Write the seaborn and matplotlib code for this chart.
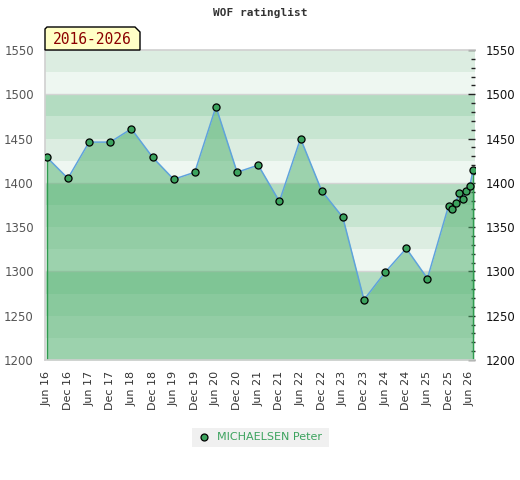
import numpy as np
import pandas as pd
import matplotlib
matplotlib.use('Agg')
import matplotlib.pyplot as plt
import seaborn as sns
from matplotlib.patches import Polygon
from matplotlib.ticker import MultipleLocator

# months counted from Jun 2016
months = [0, 6, 12, 18, 24, 30, 36, 42, 48, 54, 60, 66, 72, 78, 84, 90, 96, 102, 108,
          114, 115, 116, 117, 118, 119, 120, 121]
ratings = [1429, 1405, 1446, 1446, 1461, 1429, 1404, 1412, 1486, 1412, 1420, 1379, 1450,
           1391, 1361, 1268, 1299, 1326, 1292,
           1374, 1371, 1377, 1389, 1382, 1391, 1396, 1415]
tick_months = list(range(0, 121, 6))
tick_labels = ['Jun 16', 'Dec 16', 'Jun 17', 'Dec 17', 'Jun 18', 'Dec 18', 'Jun 19', 'Dec 19',
               'Jun 20', 'Dec 20', 'Jun 21', 'Dec 21', 'Jun 22', 'Dec 22', 'Jun 23', 'Dec 23',
               'Jun 24', 'Dec 24', 'Jun 25', 'Dec 25', 'Jun 26']
player = 'MICHAELSEN Peter'
period = '2016-2026'

df = pd.DataFrame({'month': months, 'rating': ratings})

sns.set_style('white')
W, H = 520, 480
fig = plt.figure(figsize=(W / 100, H / 100), dpi=100)
ax = fig.add_axes([45 / W, 1 - 360 / H, 430 / W, 310 / H])

# banded background, 4 shades repeating every 100 points
band_colors = ['#eef7f1', '#dcede1', '#c7e5d1', '#b3dcc1']
for lo in range(1200, 1550, 25):
    ax.axhspan(lo, lo + 25, color=band_colors[(lo % 100) // 25], lw=0, zorder=0)
for y in (1300, 1400, 1500):
    ax.axhline(y, color='#d4d4d4', lw=1, zorder=0.5)

green = '#3ca35e'
ax.fill_between(df['month'], df['rating'], 1200, color='#4caf6a', alpha=0.5, lw=0, zorder=1)
ax.vlines([months[0], months[-1]], 1200, [ratings[0], ratings[-1]], color='#2f9a4f', lw=1, zorder=2)
sns.lineplot(data=df, x='month', y='rating', ax=ax, color='#5fa3dc', lw=1.1, zorder=3)
sns.scatterplot(data=df, x='month', y='rating', ax=ax, color=green, edgecolor='black',
                linewidth=0.9, s=26, zorder=4)

ax.set_xlim(-0.5, 121.5)
ax.set_ylim(1200, 1550)
ax.set_xlabel('')
ax.set_ylabel('')
ax.set_xticks(tick_months)
ax.set_xticklabels(tick_labels, rotation=90, fontsize=8, color='#333333')
ax.tick_params(axis='x', length=0, pad=8)
ax.set_yticks(range(1200, 1551, 50))
ax.yaxis.set_minor_locator(MultipleLocator(10))
ax.tick_params(axis='y', which='major', left=False, right=True, direction='in', length=5,
               labelleft=True, labelright=True, labelsize=8.5, pad=8, color='#222222', width=1)
ax.tick_params(axis='y', which='minor', left=False, right=True, direction='in', length=3,
               color='#222222', width=1)
for t in ax.yaxis.get_major_ticks():
    t.label1.set_color('#555555')
    t.label2.set_color('#111111')
for side in ('left', 'top', 'bottom'):
    ax.spines[side].set_color('#d0d0d0')
    ax.spines[side].set_linewidth(1.2)
ax.spines['right'].set_visible(False)
ax.grid(False)

fig.text(0.5, 1 - 13 / H, 'WOF ratinglist', ha='center', va='center', fontsize=8,
         fontweight='bold', family='DejaVu Sans Mono', color='#333333')

# period tag with chamfered corners, drawn in pixel coords
bx0, bx1, by0, by1 = 45, 140, 27, 50
pts = [(bx0, by1), (bx0, by0 + 2), (bx0 + 2, by0), (bx1 - 5, by0), (bx1, by0 + 5), (bx1, by1)]
pts = [(x / W, 1 - y / H) for x, y in pts]
fig.patches.append(Polygon(pts, closed=True, facecolor='#ffffc6', edgecolor='black', lw=1,
                           transform=fig.transFigure, zorder=5))
fig.text(92 / W, 1 - 39.5 / H, period, ha='center', va='center', fontsize=10.5,
         family='DejaVu Sans Mono', color='#8b0000', zorder=6)

# legend box
lx0, lx1, ly0, ly1 = 192, 329, 428, 447
fig.patches.append(plt.Rectangle((lx0 / W, 1 - ly1 / H), (lx1 - lx0) / W, (ly1 - ly0) / H,
                                 facecolor='#f0f0f0', edgecolor='none', transform=fig.transFigure))
fig.lines.append(plt.Line2D([203.5 / W], [1 - 436.5 / H], marker='o', markersize=5,
                            markerfacecolor=green, markeredgecolor='black', markeredgewidth=0.9,
                            transform=fig.transFigure))
fig.text(217 / W, 1 - 437 / H, player, ha='left', va='center', fontsize=8, color=green)

fig.savefig('out.png', dpi=100)
